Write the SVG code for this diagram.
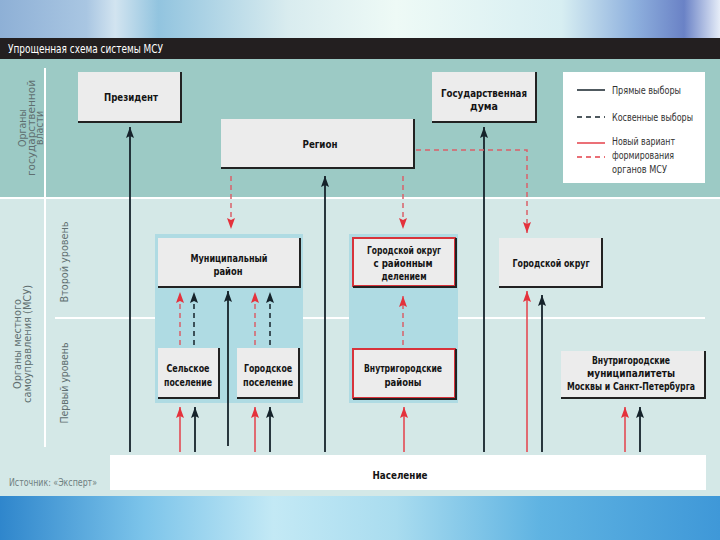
<svg xmlns="http://www.w3.org/2000/svg" width="720" height="540" viewBox="0 0 720 540">
<defs>
<linearGradient id="gt" x1="0" y1="0" x2="1" y2="0">
<stop offset="0" stop-color="#8eb0d6"/>
<stop offset="0.12" stop-color="#a9c6e2"/>
<stop offset="0.16" stop-color="#d2e4f0"/>
<stop offset="0.22" stop-color="#92c4df"/>
<stop offset="0.4" stop-color="#d9ecef"/>
<stop offset="0.55" stop-color="#eefaf6"/>
<stop offset="0.78" stop-color="#d7eef2"/>
<stop offset="0.88" stop-color="#8fb1de"/>
<stop offset="0.95" stop-color="#6a82c6"/>
<stop offset="1" stop-color="#e6edf8"/>
</linearGradient>
<linearGradient id="gb" x1="0" y1="0" x2="1" y2="0">
<stop offset="0" stop-color="#2f86cc"/>
<stop offset="0.2" stop-color="#7cc4ea"/>
<stop offset="0.38" stop-color="#c3e9f5"/>
<stop offset="0.55" stop-color="#a9dcef"/>
<stop offset="0.75" stop-color="#5fb3e2"/>
<stop offset="1" stop-color="#3f98d8"/>
</linearGradient>
<marker id="ab" viewBox="0 0 11 8" refX="11" refY="4" markerWidth="11" markerHeight="8" orient="auto" markerUnits="userSpaceOnUse">
<path d="M0,0 L11,4 L0,8 L2,4 z" fill="#16232b"/>
</marker>
<marker id="ar" viewBox="0 0 11 8" refX="11" refY="4" markerWidth="11" markerHeight="8" orient="auto" markerUnits="userSpaceOnUse">
<path d="M0,0 L11,4 L0,8 L2,4 z" fill="#e4323c"/>
</marker>
</defs>
<style>
.box{fill:#ececec}
.sh{fill:none;stroke:#222;stroke-width:2}
.rb{fill:#ececec;stroke:#d8333b;stroke-width:2}
.t{font-family:"DejaVu Sans Condensed","Liberation Sans Narrow","DejaVu Sans",sans-serif;font-weight:bold;font-size:11px;fill:#141414;text-anchor:middle}
.s{font-size:10px}
.l{font-family:"Liberation Sans Narrow","DejaVu Sans Condensed","Liberation Sans",sans-serif;font-size:11px;fill:#333}
.g{font-family:"Liberation Sans Narrow","DejaVu Sans Condensed","Liberation Sans",sans-serif;font-size:10.5px;fill:#5f6f70;text-anchor:middle}
.ks{fill:none;stroke:#16232b;stroke-width:1.8}
.kd{fill:none;stroke:#16232b;stroke-width:1.5;stroke-dasharray:5 4}
.rs{fill:none;stroke:#e4404a;stroke-width:1.5}
.rd{fill:none;stroke:#d9606a;stroke-width:1.5;stroke-dasharray:5 4}
.wl{stroke:#ffffff;stroke-width:2}
</style>
<!-- background -->
<rect x="0" y="0" width="720" height="40" fill="url(#gt)"/>
<rect x="0" y="496" width="720" height="44" fill="url(#gb)"/>
<rect x="0" y="38" width="720" height="21" fill="#231f20"/>
<text x="8" y="53" font-family="'Liberation Sans Narrow','DejaVu Sans Condensed','Liberation Sans',sans-serif" font-size="12.5" fill="#ffffff" textLength="155" lengthAdjust="spacingAndGlyphs">Упрощенная схема системы МСУ</text>
<rect x="0" y="59" width="720" height="139" fill="#9ccac5"/>
<rect x="0" y="198" width="720" height="298" fill="#d4e8e7"/>
<line class="wl" x1="0" y1="198" x2="720" y2="198"/>
<line class="wl" x1="45" y1="68" x2="45" y2="447"/>
<line class="wl" x1="55" y1="318" x2="705" y2="318"/>
<!-- side labels -->
<g id="labels">
<text class="g" transform="translate(26,128) rotate(-90)">Органы</text>
<text class="g" transform="translate(35,128) rotate(-90)" textLength="96" lengthAdjust="spacingAndGlyphs">государственной</text>
<text class="g" transform="translate(43,128) rotate(-90)">власти</text>
<text class="g" transform="translate(21,344) rotate(-90)" textLength="90" lengthAdjust="spacingAndGlyphs">Органы местного</text>
<text class="g" transform="translate(31,344) rotate(-90)" textLength="118" lengthAdjust="spacingAndGlyphs">самоуправления (МСУ)</text>
<text class="g" transform="translate(68,262) rotate(-90)" textLength="81" lengthAdjust="spacingAndGlyphs">Второй уровень</text>
<text class="g" transform="translate(68,383) rotate(-90)" textLength="81" lengthAdjust="spacingAndGlyphs">Первый уровень</text>
<text x="9" y="486" font-family="'Liberation Sans Narrow','DejaVu Sans Condensed','Liberation Sans',sans-serif" font-size="10.5" fill="#6f7f80" textLength="88" lengthAdjust="spacingAndGlyphs">Источник: «Эксперт»</text>
</g>
<!-- panels -->
<rect x="155" y="234" width="148" height="169" fill="#afdbe3"/>
<rect x="349" y="234" width="109" height="169" fill="#afdbe3"/>
<!-- nodes -->
<g id="president">
<rect class="box" x="78" y="72" width="103" height="50"/>
<path class="sh" d="M181,72 V122 H78"/>
<text class="t" x="131" y="101" textLength="54" lengthAdjust="spacingAndGlyphs">Президент</text>
</g>
<g id="region">
<rect class="box" x="221" y="119" width="193" height="49"/>
<path class="sh" d="M414,119 V168 H221"/>
<text class="t" x="320" y="148" textLength="35" lengthAdjust="spacingAndGlyphs">Регион</text>
</g>
<g id="duma">
<rect class="box" x="432" y="72" width="104" height="50"/>
<path class="sh" d="M536,72 V122 H432"/>
<text class="t" x="484" y="97" textLength="86" lengthAdjust="spacingAndGlyphs">Государственная</text>
<text class="t" x="484" y="110" textLength="28" lengthAdjust="spacingAndGlyphs">дума</text>
</g>
<g id="legend">
<rect x="563" y="72" width="142" height="111" fill="#ffffff"/>
<line x1="577" y1="90" x2="605" y2="90" stroke="#16232b" stroke-width="1.5"/>
<line x1="577" y1="117" x2="605" y2="117" stroke="#16232b" stroke-width="1.5" stroke-dasharray="5 4"/>
<line x1="577" y1="143" x2="605" y2="143" stroke="#e4404a" stroke-width="1.5"/>
<line x1="577" y1="157" x2="605" y2="157" stroke="#e4404a" stroke-width="1.5" stroke-dasharray="5 4"/>
<text class="l" x="612" y="94" textLength="69" lengthAdjust="spacingAndGlyphs">Прямые выборы</text>
<text class="l" x="612" y="121" textLength="81" lengthAdjust="spacingAndGlyphs">Косвенные выборы</text>
<text class="l" x="612" y="145" textLength="63" lengthAdjust="spacingAndGlyphs">Новый вариант</text>
<text class="l" x="612" y="159" textLength="62" lengthAdjust="spacingAndGlyphs">формирования</text>
<text class="l" x="612" y="173" textLength="55" lengthAdjust="spacingAndGlyphs">органов МСУ</text>
</g>
<g id="munrayon">
<rect class="box" x="158" y="238" width="142" height="49"/>
<path class="sh" d="M300,238 V287 H158"/>
<text class="t" x="229" y="262" textLength="77" lengthAdjust="spacingAndGlyphs">Муниципальный</text>
<text class="t" x="228" y="275" textLength="29" lengthAdjust="spacingAndGlyphs">район</text>
</g>
<g id="gorokrug-ray">
<rect class="rb" x="353" y="238" width="102" height="48"/>
<path class="sh" d="M456,238 V287 H353"/>
<text class="t s" x="404" y="254" textLength="74" lengthAdjust="spacingAndGlyphs">Городской округ</text>
<text class="t s" x="403" y="267" textLength="59" lengthAdjust="spacingAndGlyphs">с районным</text>
<text class="t s" x="404" y="280" textLength="45" lengthAdjust="spacingAndGlyphs">делением</text>
</g>
<g id="gorokrug">
<rect class="box" x="499" y="238" width="103" height="49"/>
<path class="sh" d="M602,238 V287 H499"/>
<text class="t" x="551" y="267" textLength="77" lengthAdjust="spacingAndGlyphs">Городской округ</text>
</g>
<g id="selskoe">
<rect class="box" x="158" y="348" width="61" height="50"/>
<path class="sh" d="M219,348 V398 H158"/>
<text class="t s" x="188" y="372" textLength="43" lengthAdjust="spacingAndGlyphs">Сельское</text>
<text class="t s" x="188" y="386" textLength="48" lengthAdjust="spacingAndGlyphs">поселение</text>
</g>
<g id="gorodskoe">
<rect class="box" x="237" y="348" width="62" height="50"/>
<path class="sh" d="M299,348 V398 H237"/>
<text class="t s" x="268" y="372" textLength="48" lengthAdjust="spacingAndGlyphs">Городское</text>
<text class="t s" x="268" y="386" textLength="50" lengthAdjust="spacingAndGlyphs">поселение</text>
</g>
<g id="vnutrrayony">
<rect class="rb" x="353" y="349" width="102" height="49"/>
<path class="sh" d="M456,349 V399 H353"/>
<text class="t s" x="403" y="372" textLength="78" lengthAdjust="spacingAndGlyphs">Внутригородские</text>
<text class="t s" x="403" y="386" textLength="37" lengthAdjust="spacingAndGlyphs">районы</text>
</g>
<g id="moscow">
<rect class="box" x="561" y="351" width="144" height="47"/>
<path class="sh" d="M705,351 V398 H561"/>
<text class="t s" x="631" y="364" textLength="78" lengthAdjust="spacingAndGlyphs">Внутригородские</text>
<text class="t s" x="631" y="377" textLength="88" lengthAdjust="spacingAndGlyphs">муниципалитеты</text>
<text class="t s" x="631" y="390" textLength="128" lengthAdjust="spacingAndGlyphs">Москвы и Санкт-Петербурга</text>
</g>
<g id="population">
<rect x="110" y="455" width="596" height="35" fill="#ffffff"/>
<text class="t" x="400" y="479" font-size="14.5" textLength="55" lengthAdjust="spacingAndGlyphs">Население</text>
</g>
<!-- connectors -->
<g id="connectors">
<path class="ks" d="M130,452 V127" marker-end="url(#ab)"/>
<path class="ks" d="M325,452 V176" marker-end="url(#ab)"/>
<path class="ks" d="M484,452 V127" marker-end="url(#ab)"/>
<path class="ks" d="M228,446 V291" marker-end="url(#ab)"/>
<path class="ks" d="M542,452 V295" marker-end="url(#ab)"/>
<path class="rs" d="M527,452 V291" marker-end="url(#ar)"/>
<path class="rs" d="M180,452 V407" marker-end="url(#ar)"/>
<path class="ks" d="M195,452 V407" marker-end="url(#ab)"/>
<path class="rs" d="M255,452 V407" marker-end="url(#ar)"/>
<path class="ks" d="M270,452 V407" marker-end="url(#ab)"/>
<path class="rs" d="M404,452 V407" marker-end="url(#ar)"/>
<path class="rs" d="M625,452 V407" marker-end="url(#ar)"/>
<path class="ks" d="M640,452 V407" marker-end="url(#ab)"/>
<path class="rd" d="M180,345 V292" marker-end="url(#ar)"/>
<path class="kd" d="M194,345 V292" marker-end="url(#ab)"/>
<path class="rd" d="M255,345 V292" marker-end="url(#ar)"/>
<path class="kd" d="M270,345 V292" marker-end="url(#ab)"/>
<path class="rd" d="M403,345 V296" marker-end="url(#ar)"/>
<path class="rd" d="M231,176 V229" marker-end="url(#ar)"/>
<path class="rd" d="M403,176 V229" marker-end="url(#ar)"/>
<path class="rd" d="M416,150 H527 V233" marker-end="url(#ar)"/>
</g>
</svg>
